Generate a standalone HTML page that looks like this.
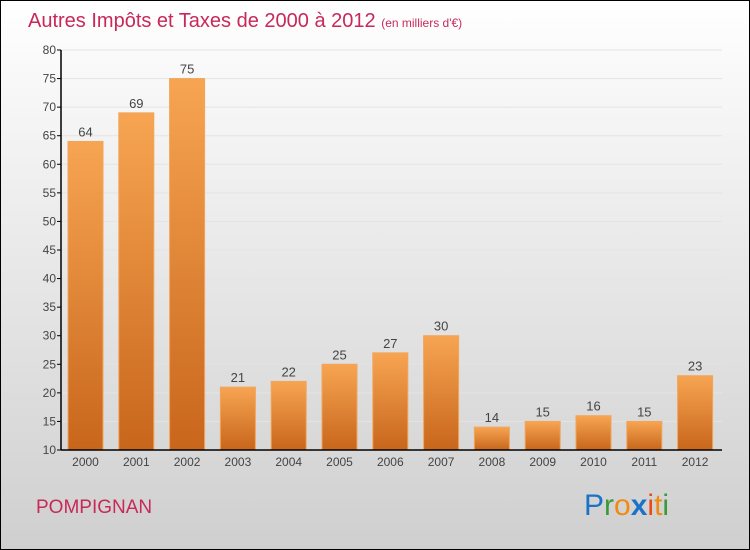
<!DOCTYPE html>
<html><head><meta charset="utf-8"><style>
body{margin:0;width:750px;height:550px;overflow:hidden}
svg{display:block;font-family:"Liberation Sans",sans-serif}
</style></head><body>
<svg id="c" width="750" height="550">
<defs>
<linearGradient id="bg" x1="0" y1="0" x2="0" y2="1"><stop offset="0" stop-color="#ffffff"/><stop offset="1" stop-color="#cfcfcf"/></linearGradient>
<linearGradient id="bar" x1="0" y1="0" x2="0" y2="1"><stop offset="0" stop-color="#f7a552"/><stop offset="1" stop-color="#c8661c"/></linearGradient>
</defs>
<rect x="0.5" y="0.5" width="749" height="549" fill="url(#bg)" stroke="#000"/>
<text x="28" y="27" font-size="20" fill="#c8285a">Autres Impôts et Taxes de 2000 à 2012 <tspan font-size="12">(en milliers d'€)</tspan></text>
<g id="grid"></g><g id="bars"></g><g id="axes"></g>
<text x="36" y="513" font-size="19" fill="#c8285a">POMPIGNAN</text>
<g font-size="30">
<text x="584" y="515" fill="#1a73c8">P<tspan fill="#3a9a3a">r</tspan><tspan fill="#f08a10">o</tspan><tspan fill="#1a73c8" font-weight="bold">x</tspan><tspan fill="#e84a1a">i</tspan><tspan fill="#f08a10">t</tspan><tspan fill="#3a9a3a">i</tspan></text>
</g>
</svg>
<script>
const years=["2000","2001","2002","2003","2004","2005","2006","2007","2008","2009","2010","2011","2012"];
const values=[64,69,75,21,22,25,27,30,14,15,16,15,23];
const ticks=[10,15,20,25,30,35,40,45,50,55,60,65,70,75,80];
const NS="http://www.w3.org/2000/svg";
const x0=61,x1=722,yTop=50,yBot=450,vMin=10,vMax=80;
const y=v=>yBot-(v-vMin)/(vMax-vMin)*(yBot-yTop);
const step=50.8,bw=35;
const xc=i=>85.5+i*step;
function mk(t,a,p){const e=document.createElementNS(NS,t);for(const k in a)e.setAttribute(k,a[k]);p.appendChild(e);return e;}
const G=document.getElementById('grid'),B=document.getElementById('bars'),A=document.getElementById('axes');
ticks.forEach(t=>{
 const l=mk('line',{x1:x0,x2:x1,y1:y(t),y2:y(t),stroke:'#e4e4e4','stroke-width':1},G);
 
 
 const tk=mk('line',{x1:x0-4,x2:x0,y1:y(t),y2:y(t),stroke:'#000'},A);
 
 
 const tx=mk('text',{x:x0-5,y:y(t)+4,'font-size':12,'text-anchor':'end',fill:'#444'},A);
 tx.textContent=t;
 
 
});
values.forEach((v,i)=>{
 const r=mk('rect',{x:xc(i)-bw/2,y:y(v),width:bw,height:yBot-y(v),fill:'url(#bar)',stroke:'#f2a55a','stroke-width':1},B);
 
 
 const t=mk('text',{x:xc(i),y:y(v)-5,'font-size':13,'text-anchor':'middle',fill:'#444'},B);
 t.textContent=v;
 
 
 const xl=mk('text',{x:xc(i),y:466,'font-size':12,'text-anchor':'middle',fill:'#444'},A);
 xl.textContent=years[i];
 
 
});
const ya=mk('line',{x1:x0,x2:x0,y1:yTop,y2:yBot,stroke:'#000','stroke-width':1.5},A);


const xa=mk('line',{x1:x0,x2:x1,y1:yBot,y2:yBot,stroke:'#000','stroke-width':1.5},A);


</script>
</body></html>
